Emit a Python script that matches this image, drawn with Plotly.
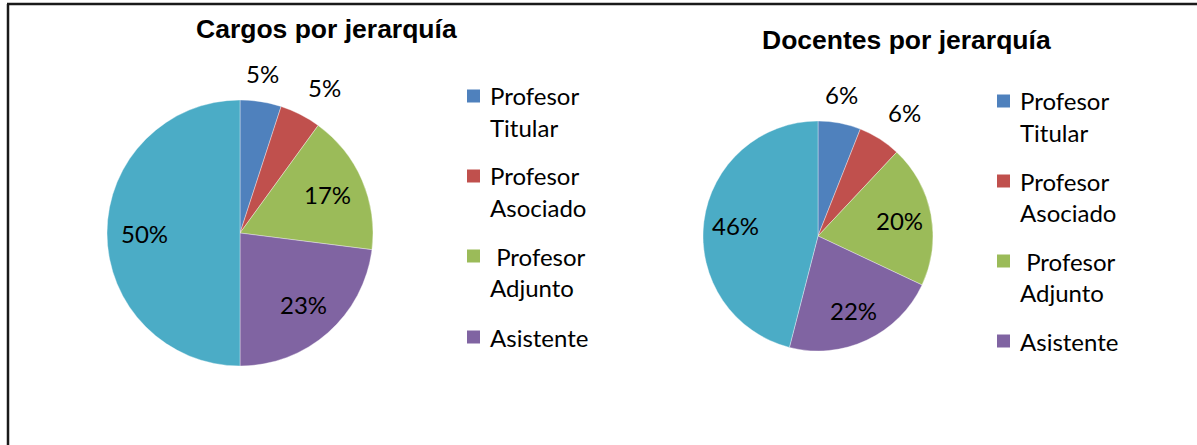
import math
import plotly.graph_objects as go

# ---- data ----
categories = ["Profesor Titular", "Profesor Asociado", "Profesor Adjunto", "Asistente", "Total"]
cargos_pct = [5, 5, 17, 23, 50]
docentes_pct = [6, 6, 20, 22, 46]
legend_lines = [["Profesor", "Titular"], ["Profesor", "Asociado"],
                ["\u00a0Profesor", "Adjunto"], ["Asistente"]]
titles = ["Cargos por jerarquía", "Docentes por jerarquía"]
colors = ["#4F81BD", "#C0504D", "#9BBB59", "#8064A2", "#4BACC6"]
label_pos = ["outside", "outside", "inside", "inside", "inside"]

W, H = 1197, 445
px = lambda x: x / W
py = lambda y: 1 - y / H

LABEL_FONT = "Lato, Carlito, 'Open Sans', sans-serif"
TITLE_FONT = "'Liberation Sans', Arial, sans-serif"
FS = 24

fig = go.Figure()
shapes = []
annotations = []


def add_pie(values, cx, cy, r):
    fig.add_trace(go.Pie(
        labels=categories, values=values, sort=False, direction="clockwise",
        rotation=0,
        marker=dict(colors=colors, line=dict(color="rgba(255,255,255,0.6)", width=0.6)),
        textinfo="none",
        showlegend=False, hoverinfo="label+percent",
        domain=dict(x=[px(cx - r), px(cx + r)], y=[py(cy + r), py(cy - r)]),
    ))
    # percentage labels placed at each slice's mid-angle
    total = sum(values)
    cum = 0
    for v, p in zip(values, label_pos):
        mid = 2 * math.pi * (cum + v / 2) / total
        cum += v
        if p == "outside":
            rr = r + 12
            xa = "center" if math.sin(mid) < 0.3 else "left"
            ya = "bottom"
        else:
            rr = 0.72 * r
            xa, ya = "center", "middle"
        x = cx + rr * math.sin(mid)
        y = cy - rr * math.cos(mid)
        annotations.append(dict(
            text="%d%%" % round(100 * v / total), x=px(x), y=py(y),
            xref="paper", yref="paper", showarrow=False,
            xanchor=xa, yanchor=ya,
            font=dict(family=LABEL_FONT, size=FS, color="black")))


add_pie(cargos_pct, 240, 233, 133)
add_pie(docentes_pct, 818, 236, 115)

# titles
annotations.append(dict(text="<b>%s</b>" % titles[0], x=px(326), y=py(29), xref="paper", yref="paper",
                        showarrow=False, xanchor="center", yanchor="middle",
                        font=dict(family=TITLE_FONT, size=26.5, color="black")))
annotations.append(dict(text="<b>%s</b>" % titles[1], x=px(906), y=py(40), xref="paper", yref="paper",
                        showarrow=False, xanchor="center", yanchor="middle",
                        font=dict(family=TITLE_FONT, size=26.5, color="black")))


# manual legends
def add_legend(x0, y_centers):
    for i, lines in enumerate(legend_lines):
        yc = y_centers[i]
        shapes.append(dict(type="rect", xref="paper", yref="paper",
                           x0=px(x0), x1=px(x0 + 13), y0=py(yc + 6.5), y1=py(yc - 6.5),
                           fillcolor=colors[i], line=dict(width=0)))
        for j, t in enumerate(lines):
            annotations.append(dict(text=t, x=px(x0 + 21), y=py(yc + 31 * j), xref="paper", yref="paper",
                                    showarrow=False, xanchor="left", yanchor="middle",
                                    font=dict(family=LABEL_FONT, size=FS, color="black")))


add_legend(467, [96, 176, 256, 337])
add_legend(997, [101, 181, 261, 341])

# outer frame (top and left edges visible)
shapes.append(dict(type="line", xref="paper", yref="paper", x0=px(7), x1=1, y0=py(4), y1=py(4),
                   line=dict(color="#1a1a1a", width=2.5)))
shapes.append(dict(type="line", xref="paper", yref="paper", x0=px(8), x1=px(8), y0=py(4), y1=0,
                   line=dict(color="#1a1a1a", width=2.5)))

fig.update_layout(
    width=W, height=H, autosize=False,
    margin=dict(l=0, r=0, t=0, b=0),
    paper_bgcolor="white", plot_bgcolor="white",
    shapes=shapes, annotations=annotations,
)

fig.write_html("out.html", config={"displayModeBar": False},
               post_script="document.body.style.margin='0';document.body.style.overflow='hidden';")
